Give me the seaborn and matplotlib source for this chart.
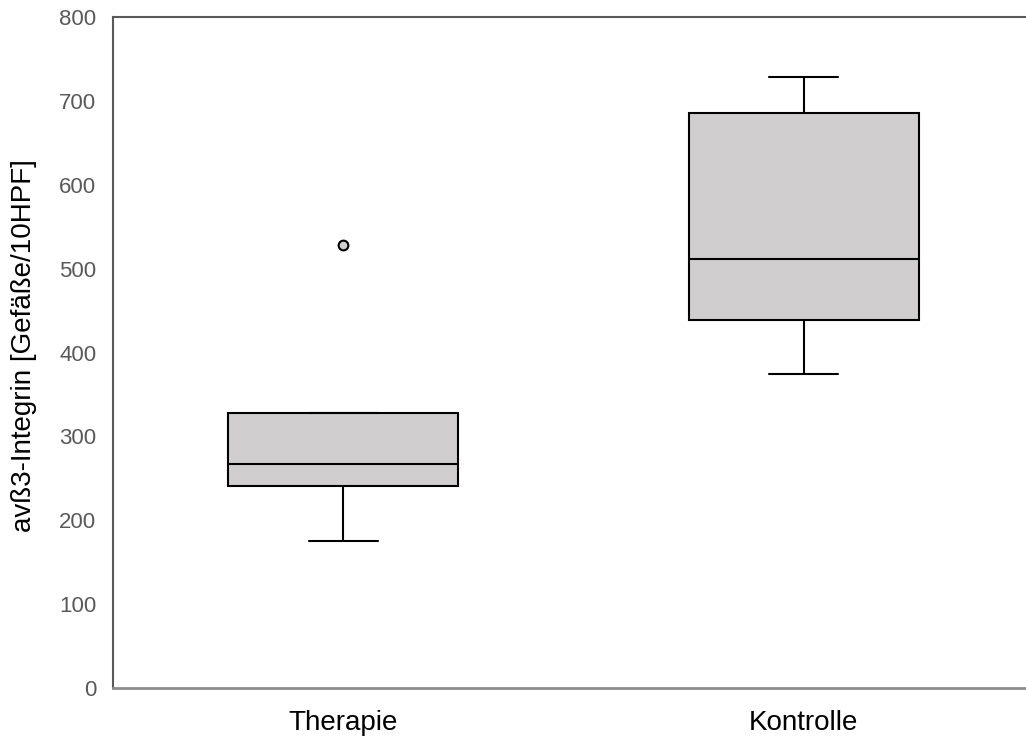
import pandas as pd
import matplotlib
matplotlib.use("Agg")
import matplotlib.pyplot as plt
import seaborn as sns

# Werte (so gewählt, dass die Quartile passen)
therapie = [175, 215, 241, 255, 267, 300, 328, 328, 528]
kontrolle = [374, 410, 439, 480, 512, 600, 685, 710, 728]
gruppen = ["Therapie", "Kontrolle"]
y_ticks = [0, 100, 200, 300, 400, 500, 600, 700, 800]

sns.set_theme(style="white")
plt.rcParams["font.family"] = ["Liberation Sans", "DejaVu Sans"]

df = pd.DataFrame({
    "gruppe": [gruppen[0]] * len(therapie) + [gruppen[1]] * len(kontrolle),
    "wert": therapie + kontrolle,
})

fig = plt.figure(figsize=(10.26, 7.40), dpi=100)
ax = fig.add_axes([113 / 1026, 52 / 740, 921 / 1026, 671 / 740])

sns.boxplot(
    data=df,
    x="gruppe",
    y="wert",
    order=gruppen,
    width=0.5,
    color="#d0cece",
    linecolor="black",
    linewidth=1.5,
    saturation=1,
    fliersize=7,
    flierprops=dict(marker="o", markerfacecolor="#d0cece",
                    markeredgecolor="black", markeredgewidth=1.5),
    capwidths=0.15,
    ax=ax,
)

ax.set_xlim(-0.5, 1.5)
ax.set_ylim(0, 800)
ax.set_yticks(y_ticks)
ax.set_xlabel("")
ax.set_ylabel("avß3-Integrin [Gefäße/10HPF]", fontsize=20, color="black")
ax.yaxis.set_label_coords(-0.083, 0.511)
ax.tick_params(axis="y", length=0, pad=12, labelsize=16, labelcolor="#595959")
ax.tick_params(axis="x", length=0, pad=16, labelsize=20, labelcolor="black")

for side in ["left", "top"]:
    ax.spines[side].set_color("#595959")
    ax.spines[side].set_linewidth(1.5)
ax.spines["bottom"].set_color("#8c8c8c")
ax.spines["bottom"].set_linewidth(2)
ax.spines["right"].set_visible(False)

fig.savefig("out.png", dpi=100)
plt.close()
